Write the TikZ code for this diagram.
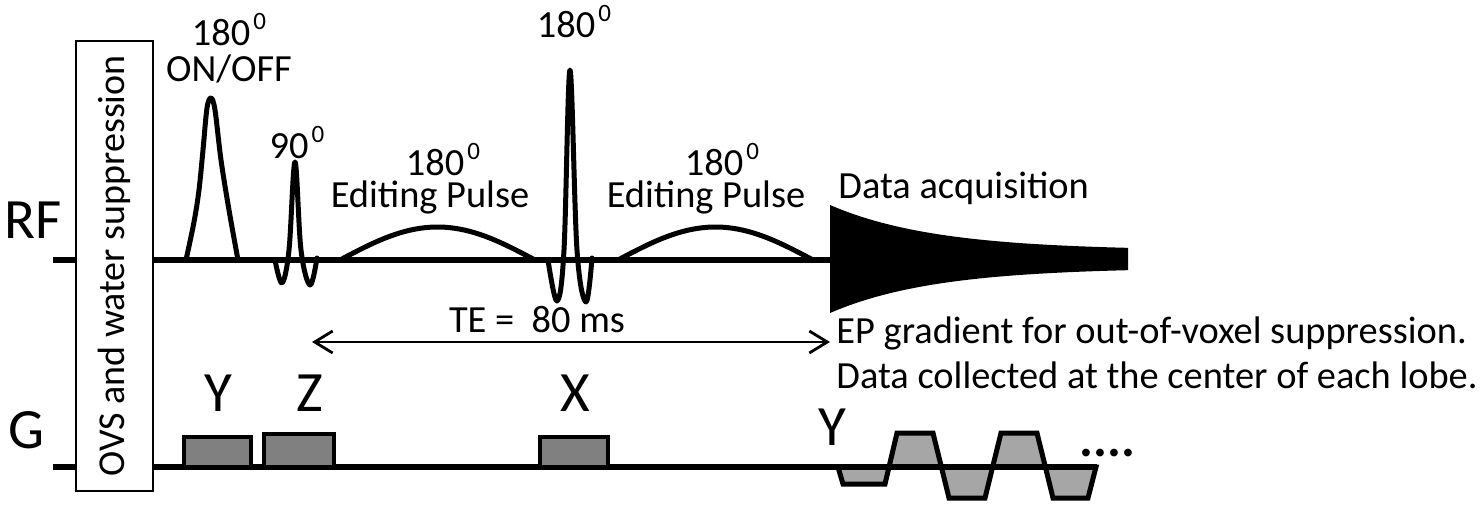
\documentclass[tikz,border=0pt]{standalone}
\usepackage{fontspec}
\setmainfont{Carlito}
\usetikzlibrary{arrows.meta}
\definecolor{gradgray}{RGB}{128,128,128}
\definecolor{epigray}{RGB}{166,166,166}
\newcommand\supz{\kern1.5pt\raisebox{8pt}{\fontsize{12.5}{12.5}\selectfont 0}}
\begin{document}
\begin{tikzpicture}[x=0.5pt,y=-0.5pt,
  sm/.style={font=\fontsize{19.2}{22}\selectfont, inner sep=0pt},
  tight/.style={text height=0.62em, text depth=0.1em},
  big/.style={font=\fontsize{28.5}{32}\selectfont, inner sep=0pt},
  baseln/.style={line width=3pt},
  pulse/.style={line width=2.5pt, line join=round, line cap=round},
  gradbox/.style={draw=black, line width=2pt, fill=gradgray},
  epi/.style={draw=black, line width=2.5pt, fill=epigray, line join=miter},
  tearrow/.style={line width=1.4pt, {Straight Barb[length=9pt,width=11pt]}-{Straight Barb[length=9pt,width=11pt]}},
  ovsbox/.style={draw=black, line width=1.2pt, rotate=90, minimum width=225pt, minimum height=38.5pt, inner sep=0pt, font=\fontsize{19}{22}\selectfont}
]
\useasboundingbox (0,0) rectangle (1480,516);
\fill[white] (0,0) rectangle (1480,516);

% ---------- RF row ----------
\draw[baseln] (53,260) -- (76,260);
\draw[baseln] (153,260) -- (832,260);

% 180 ON/OFF pulse
\draw[pulse] plot[smooth, tension=0.55] coordinates {(186,260) (194,222) (199,190) (203,150) (207,108) (211,98) (215,110) (221,160) (229,210) (238,260)};
% 90 pulse
\draw[pulse] plot[smooth, tension=0.6] coordinates {(275,260) (282,283) (289,250) (295,162) (301,250) (310,285) (317,258)};
% editing pulse 1
\draw[pulse] plot[domain=0:180, samples=40] ({340+\x*1.08333},{260-33*sin(\x)});
% 180 refocusing
\draw[pulse] plot[smooth, tension=0.6] coordinates {(548,260) (557,301) (564,250) (570,70) (577,250) (586,302) (592,258)};
% editing pulse 2
\draw[pulse] plot[domain=0:180, samples=40] ({618+\x*1.08333},{260-33*sin(\x)});
% data acquisition
\fill[black] plot[domain=0:298, samples=60] ({830+\x},{259-8.5-45.5*exp(-\x/105)})
   -- plot[domain=298:0, samples=60] ({830+\x},{259+8.5+45.5*exp(-\x/105)}) -- cycle;

% ---------- G row ----------
\filldraw[epi] (838,467) -- (843,484) -- (885,484) -- (897,433) -- (933,433) -- (949,498) -- (985,498)
   -- (1001,433) -- (1037,433) -- (1053,498) -- (1088,498) -- (1096,467) -- cycle;
\draw[baseln] (53,467) -- (76,467);
\draw[baseln] (153,467) -- (1097,467);
\filldraw[gradbox] (184,437) rectangle (251,467);
\filldraw[gradbox] (264,434) rectangle (334,467);
\filldraw[gradbox] (540,437) rectangle (608,467);

% OVS box
\node[ovsbox, fill=white] (ovs) at (114.5,266) {OVS and water suppression};

% TE arrow
\coordinate (teL) at (312,342);
\coordinate (teR) at (830,342);
\draw[tearrow] (teL) -- (teR);

% ---------- labels ----------
\node[big, anchor=base west] (rf) at (4,238) {RF};
\node[big, anchor=base west] (g) at (8,448) {G};

\node[sm, anchor=base] (l180a) at (229,45) {180\supz};
\node[sm, tight, anchor=base] (lonoff) at (229,81) {ON/OFF};
\node[sm, anchor=base] (l90) at (297,158) {90\supz};
\node[sm, anchor=base] (l180b) at (574,37) {180\supz};
\node[sm, anchor=base] (l180c) at (443,175) {180\supz};
\node[sm, tight, anchor=base] (led1) at (430,207) {Editing Pulse};
\node[sm, anchor=base] (l180d) at (722,175) {180\supz};
\node[sm, tight, anchor=base] (led2) at (706,207) {Editing Pulse};
\node[sm, anchor=base west] (lda) at (838,198) {Data acquisition};
\node[sm, anchor=base] (lte) at (537,332) {TE = \ 80 ms};
\node[sm, anchor=base west] (lep1) at (836,343) {EP gradient for out-of-voxel suppression.};
\node[sm, anchor=base west] (lep2) at (836,388) {Data collected at the center of each lobe.};

\node[big, anchor=base] (gy) at (218,411) {Y};
\node[big, anchor=base] (gz) at (310,411) {Z};
\node[big, anchor=base] (gx) at (575,411) {X};
\node[big, anchor=base] (gy2) at (832,445) {Y};
\node[font=\fontsize{26}{28}\selectfont\bfseries, inner sep=0pt, anchor=base west] (dots) at (1079,456) {....};
\end{tikzpicture}
\end{document}
